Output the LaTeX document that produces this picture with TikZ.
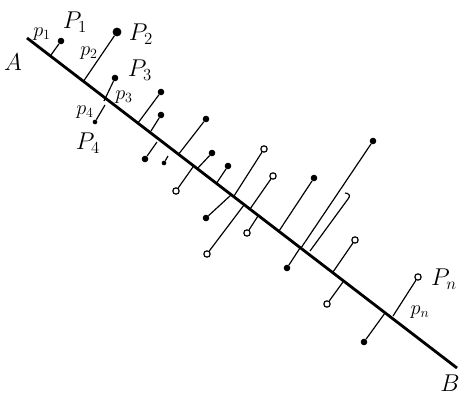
\documentclass[tikz,border=0pt]{standalone}
\usepackage{amsmath}
\usepackage{tikz}

\tikzset{
  fdot/.style={circle, fill, inner sep=0pt, minimum size=5.6pt},
  bigdot/.style={circle, fill, inner sep=0pt, minimum size=7.6pt},
  smalldot/.style={circle, fill, inner sep=0pt, minimum size=4pt},
  odot/.style={circle, draw, fill=white, inner sep=0pt, minimum size=5.4pt, line width=1pt},
  pin/.style={line width=1pt},
  bigP/.style={font=\fontsize{22}{24}\selectfont},
  smallp/.style={font=\fontsize{17}{19}\selectfont}
}

\begin{document}
\begin{tikzpicture}[x=0.03cm, y=-0.03cm]
  \useasboundingbox (0,0) rectangle (473,400);

  % Recta AB
  \coordinate (A0) at (27,38);
  \coordinate (B0) at (457,368);
  \draw[line width=2.4pt] (A0) -- (B0);
  \node[bigP] (A) at (13,62) {$A$};
  \node[bigP] (B) at (450,383) {$B$};

  % Puntos y sus pies sobre la recta
  \foreach \i/\px/\py/\fx/\fy/\s in {
      1/61/41/51/55/fdot, 2/117/32/83/82/bigdot, 3/115/78/104/101/fdot,
      4/95/122/105/105/smalldot, 5/161/92/138/123/fdot, 6/161/115/151/131/fdot,
      7/145/159/157/142/fdot, 8/164/163/168/156/smalldot, 9/206/119/178/155/fdot,
      10/176/191/193/167/odot, 11/212/153/197/169/fdot, 12/228/166/216/184/fdot,
      13/206/218/231/195/fdot, 14/264/149/234/196/odot, 15/273/176/250/209/odot,
      16/207/254/244/205/odot, 17/247/233/258/216/odot, 18/314/178/279/231/fdot,
      19/373/141/301/248/fdot, 20/287/268/300/248/fdot, 22/355/240/333/272/odot,
      23/327/304/343/282/odot, 24/418/277/393/316/odot, 25/364/342/385/313/fdot}{
    \node[\s] (d\i) at (\px,\py) {};
    \coordinate (f\i) at (\fx,\fy);
    \draw[pin] (d\i) -- (f\i);
  }

  % Punto sin marca (gancho)
  \coordinate (h21) at (348,199);
  \coordinate (f21) at (310,251);
  \draw[pin] (f21) -- (h21) .. controls (351,196) and (349,193) .. (345,193);

  % Etiquetas
  \node[bigP] (P1) at (75,22) {$P_1$};
  \node[bigP] (P2) at (141,34) {$P_2$};
  \node[bigP] (P3) at (140,70) {$P_3$};
  \node[bigP] (P4) at (88,143) {$P_4$};
  \node[bigP] (Pn) at (444,279) {$P_n$};
  \node[smallp] (p1) at (42,34) {$p_1$};
  \node[smallp] (p2) at (89,53) {$p_2$};
  \node[smallp] (p3) at (124,97) {$p_3$};
  \node[smallp] (p4) at (85,112) {$p_4$};
  \node[smallp] (pn) at (420,312) {$p_n$};
\end{tikzpicture}
\end{document}
